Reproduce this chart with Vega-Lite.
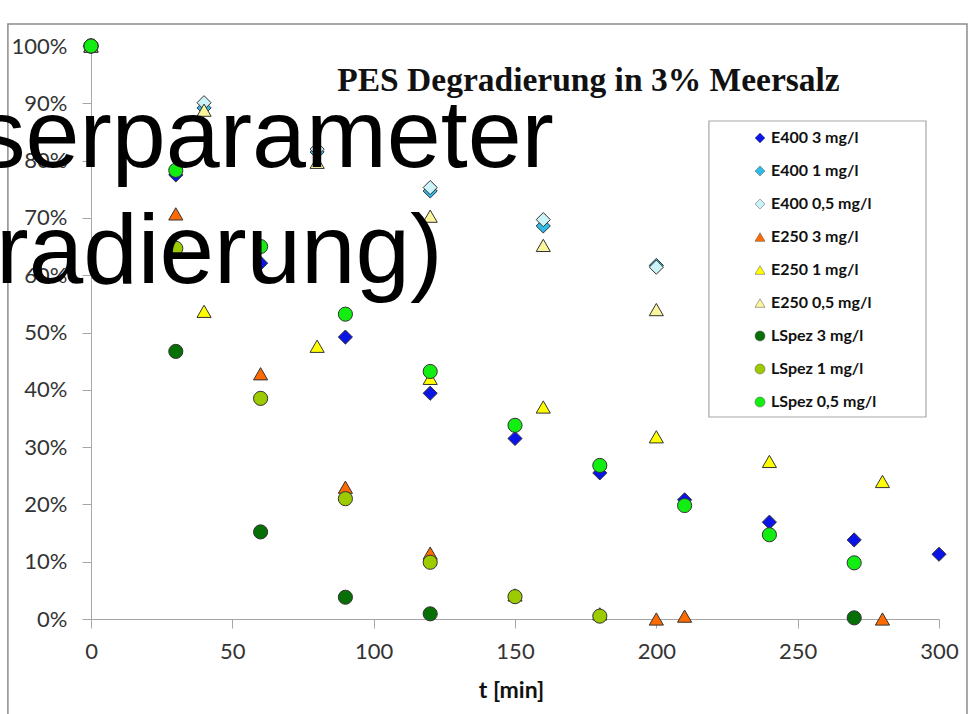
{
  "$schema": "https://vega.github.io/schema/vega-lite/v6.json",
  "width": 848,
  "height": 573,
  "autosize": {"type": "none"},
  "padding": {"left": 91, "top": 46, "right": 29, "bottom": 95},
  "background": "white",
  "config": {"view": {"stroke": null}, "font": "Lato"},
  "layer": [
    {
      "data": {"values": [{}]},
      "mark": {"type": "rect", "fill": "transparent", "stroke": "#8c8c8c", "strokeWidth": 1.5},
      "encoding": {"x": {"datum": -29.4}, "x2": {"datum": 309.9}, "y": {"datum": 1.0384}, "y2": {"datum": -0.2}}
    },
    {
      "data": {"values": [{}]},
      "mark": {"type": "rect", "fill": "white", "stroke": "#a6a6a6", "strokeWidth": 1.2},
      "encoding": {"x": {"datum": 218.6}, "x2": {"datum": 295.4}, "y": {"datum": 0.8691}, "y2": {"datum": 0.3525}}
    },
    {
      "data": {"values": [
        {"s": "E400 3 mg/l", "t": 0, "v": 1.0},
        {"s": "E400 3 mg/l", "t": 30, "v": 0.775},
        {"s": "E400 3 mg/l", "t": 60, "v": 0.621},
        {"s": "E400 3 mg/l", "t": 90, "v": 0.492},
        {"s": "E400 3 mg/l", "t": 120, "v": 0.394},
        {"s": "E400 3 mg/l", "t": 150, "v": 0.315},
        {"s": "E400 3 mg/l", "t": 180, "v": 0.255},
        {"s": "E400 3 mg/l", "t": 210, "v": 0.208},
        {"s": "E400 3 mg/l", "t": 240, "v": 0.169},
        {"s": "E400 3 mg/l", "t": 270, "v": 0.138},
        {"s": "E400 3 mg/l", "t": 300, "v": 0.113},
        {"s": "E400 1 mg/l", "t": 0, "v": 1.0},
        {"s": "E400 1 mg/l", "t": 40, "v": 0.892},
        {"s": "E400 1 mg/l", "t": 80, "v": 0.815},
        {"s": "E400 1 mg/l", "t": 120, "v": 0.747},
        {"s": "E400 1 mg/l", "t": 160, "v": 0.686},
        {"s": "E400 1 mg/l", "t": 200, "v": 0.617},
        {"s": "E400 0,5 mg/l", "t": 0, "v": 1.0},
        {"s": "E400 0,5 mg/l", "t": 40, "v": 0.901},
        {"s": "E400 0,5 mg/l", "t": 80, "v": 0.82},
        {"s": "E400 0,5 mg/l", "t": 120, "v": 0.753},
        {"s": "E400 0,5 mg/l", "t": 160, "v": 0.697},
        {"s": "E400 0,5 mg/l", "t": 200, "v": 0.614},
        {"s": "E250 3 mg/l", "t": 0, "v": 1.0},
        {"s": "E250 3 mg/l", "t": 30, "v": 0.707},
        {"s": "E250 3 mg/l", "t": 60, "v": 0.428},
        {"s": "E250 3 mg/l", "t": 90, "v": 0.23},
        {"s": "E250 3 mg/l", "t": 120, "v": 0.115},
        {"s": "E250 3 mg/l", "t": 150, "v": 0.042},
        {"s": "E250 3 mg/l", "t": 180, "v": 0.009},
        {"s": "E250 3 mg/l", "t": 200, "v": 0.0},
        {"s": "E250 3 mg/l", "t": 210, "v": 0.005},
        {"s": "E250 3 mg/l", "t": 280, "v": 0.0},
        {"s": "E250 1 mg/l", "t": 0, "v": 1.0},
        {"s": "E250 1 mg/l", "t": 40, "v": 0.537},
        {"s": "E250 1 mg/l", "t": 80, "v": 0.476},
        {"s": "E250 1 mg/l", "t": 120, "v": 0.42},
        {"s": "E250 1 mg/l", "t": 160, "v": 0.37},
        {"s": "E250 1 mg/l", "t": 200, "v": 0.318},
        {"s": "E250 1 mg/l", "t": 240, "v": 0.275},
        {"s": "E250 1 mg/l", "t": 280, "v": 0.24},
        {"s": "E250 0,5 mg/l", "t": 0, "v": 1.0},
        {"s": "E250 0,5 mg/l", "t": 40, "v": 0.888},
        {"s": "E250 0,5 mg/l", "t": 80, "v": 0.797},
        {"s": "E250 0,5 mg/l", "t": 120, "v": 0.703},
        {"s": "E250 0,5 mg/l", "t": 160, "v": 0.652},
        {"s": "E250 0,5 mg/l", "t": 200, "v": 0.54},
        {"s": "LSpez 3 mg/l", "t": 0, "v": 1.0},
        {"s": "LSpez 3 mg/l", "t": 30, "v": 0.467},
        {"s": "LSpez 3 mg/l", "t": 60, "v": 0.152},
        {"s": "LSpez 3 mg/l", "t": 90, "v": 0.038},
        {"s": "LSpez 3 mg/l", "t": 120, "v": 0.009},
        {"s": "LSpez 3 mg/l", "t": 270, "v": 0.002},
        {"s": "LSpez 1 mg/l", "t": 0, "v": 1.0},
        {"s": "LSpez 1 mg/l", "t": 30, "v": 0.647},
        {"s": "LSpez 1 mg/l", "t": 60, "v": 0.385},
        {"s": "LSpez 1 mg/l", "t": 90, "v": 0.21},
        {"s": "LSpez 1 mg/l", "t": 120, "v": 0.099},
        {"s": "LSpez 1 mg/l", "t": 150, "v": 0.039},
        {"s": "LSpez 1 mg/l", "t": 180, "v": 0.005},
        {"s": "LSpez 0,5 mg/l", "t": 0, "v": 1.0},
        {"s": "LSpez 0,5 mg/l", "t": 30, "v": 0.783},
        {"s": "LSpez 0,5 mg/l", "t": 60, "v": 0.65},
        {"s": "LSpez 0,5 mg/l", "t": 90, "v": 0.532},
        {"s": "LSpez 0,5 mg/l", "t": 120, "v": 0.432},
        {"s": "LSpez 0,5 mg/l", "t": 150, "v": 0.338},
        {"s": "LSpez 0,5 mg/l", "t": 180, "v": 0.268},
        {"s": "LSpez 0,5 mg/l", "t": 210, "v": 0.198},
        {"s": "LSpez 0,5 mg/l", "t": 240, "v": 0.147},
        {"s": "LSpez 0,5 mg/l", "t": 270, "v": 0.098}
      ]},
      "mark": {"type": "point", "filled": true, "opacity": 1, "stroke": "#333333", "strokeWidth": 1, "size": 200},
      "encoding": {
        "x": {
          "field": "t", "type": "quantitative",
          "scale": {"domain": [0, 300], "nice": false, "zero": false},
          "axis": {
            "values": [0, 50, 100, 150, 200, 250, 300],
            "title": "t [min]", "titleFont": "Lato", "titleFontSize": 23, "titleFontWeight": "bold", "titleColor": "#111111", "titlePadding": 17, "titleX": 420,
            "labelFont": "Lato", "labelFontSize": 22, "labelColor": "#333333", "labelPadding": 13, "labelFlush": false, "labelOverlap": false,
            "tickSize": 9, "tickColor": "#a6a6a6", "domainColor": "#a6a6a6", "grid": false
          }
        },
        "y": {
          "field": "v", "type": "quantitative",
          "scale": {"domain": [0, 1], "nice": false},
          "axis": {
            "values": [0, 0.1, 0.2, 0.3, 0.4, 0.5, 0.6, 0.7, 0.8, 0.9, 1.0],
            "format": ".0%", "title": null,
            "labelFont": "Lato", "labelFontSize": 22, "labelColor": "#333333", "labelPadding": 15, "labelFlush": false, "labelOverlap": false,
            "tickSize": 9, "tickColor": "#a6a6a6", "domainColor": "#a6a6a6", "grid": false
          }
        },
        "color": {
          "field": "s", "type": "nominal",
          "scale": {
            "domain": ["E400 3 mg/l", "E400 1 mg/l", "E400 0,5 mg/l", "E250 3 mg/l", "E250 1 mg/l", "E250 0,5 mg/l", "LSpez 3 mg/l", "LSpez 1 mg/l", "LSpez 0,5 mg/l"],
            "range": ["#0a14e6", "#2ebbe8", "#ccf3f8", "#ff6a00", "#ffff00", "#fbf59c", "#067006", "#9ccc00", "#12ee12"]
          },
          "legend": {
            "orient": "none", "legendX": 661, "legendY": 84, "title": null, "padding": 0,
            "labelFont": "Lato", "labelFontSize": 16, "labelFontWeight": "bold", "labelColor": "#111111", "labelOffset": 3,
            "symbolSize": 100, "symbolStrokeWidth": 0.5, "symbolStrokeColor": "#555555", "rowPadding": 17
          }
        },
        "shape": {
          "field": "s", "type": "nominal",
          "scale": {
            "domain": ["E400 3 mg/l", "E400 1 mg/l", "E400 0,5 mg/l", "E250 3 mg/l", "E250 1 mg/l", "E250 0,5 mg/l", "LSpez 3 mg/l", "LSpez 1 mg/l", "LSpez 0,5 mg/l"],
            "range": ["diamond", "diamond", "diamond", "triangle-up", "triangle-up", "triangle-up", "circle", "circle", "circle"]
          },
          "legend": {
            "orient": "none", "legendX": 661, "legendY": 84, "title": null, "padding": 0,
            "labelFont": "Lato", "labelFontSize": 16, "labelFontWeight": "bold", "labelColor": "#111111", "labelOffset": 3,
            "symbolSize": 100, "symbolStrokeWidth": 0.5, "symbolStrokeColor": "#555555", "rowPadding": 17
          }
        }
      }
    },
    {
      "data": {"values": [{}]},
      "mark": {"type": "text", "text": "PES Degradierung in 3% Meersalz", "font": "Liberation Serif", "fontSize": 33.5, "fontWeight": "bold", "align": "center", "baseline": "alphabetic", "color": "#111111"},
      "encoding": {"x": {"datum": 176}, "y": {"datum": 0.922}}
    },
    {
      "data": {"values": [{}]},
      "mark": {"type": "text", "text": "serparameter", "font": "Liberation Sans", "fontSize": 97, "align": "left", "baseline": "alphabetic", "color": "#000000"},
      "encoding": {"x": {"datum": -40.3}, "y": {"datum": 0.7888}}
    },
    {
      "data": {"values": [{}]},
      "mark": {"type": "text", "text": "radierung)", "font": "Liberation Sans", "fontSize": 98, "align": "left", "baseline": "alphabetic", "color": "#000000"},
      "encoding": {"x": {"datum": -33.6}, "y": {"datum": 0.5864}}
    }
  ]
}
